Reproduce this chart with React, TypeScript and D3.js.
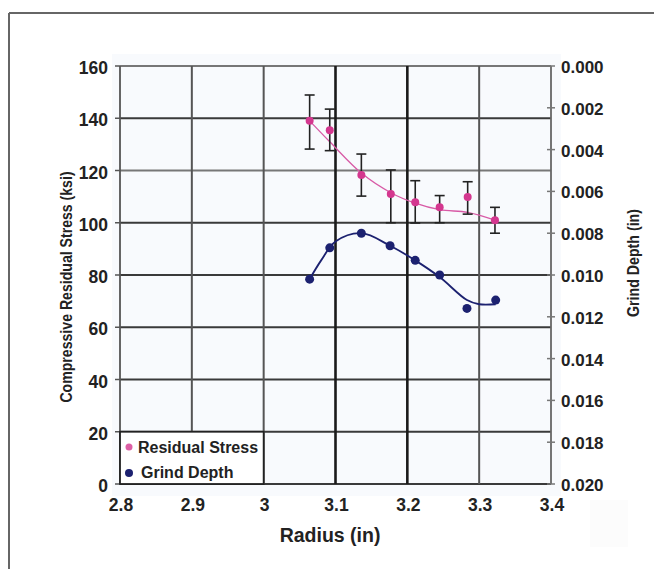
import React from "react";
import * as d3 from "d3";

const radius = [3.064, 3.092, 3.136, 3.177, 3.211, 3.245, 3.284, 3.322];
const stress = [139, 135.4, 118.3, 111, 107.8, 105.9, 109.9, 101];
const stressHi = [148.9, 143.5, 126.3, 120.2, 116.1, 110.4, 115.7, 105.9];
const stressLo = [128.2, 127.6, 110.2, 100, 99.9, 100, 103.3, 96];
const stressTrend = [139, 131, 119, 111.5, 107.5, 105, 104, 101];

const grindRadius = [3.064, 3.092, 3.136, 3.176, 3.211, 3.245, 3.283, 3.323];
const grindDepth = [0.0102, 0.0087, 0.008, 0.0086, 0.0093, 0.01, 0.0116, 0.0112];
const grindTrendX = [3.064, 3.08, 3.1, 3.136, 3.176, 3.211, 3.245, 3.283, 3.3, 3.323];
const grindTrend = [0.0102, 0.0093, 0.0084, 0.008, 0.0086, 0.0093, 0.0101, 0.0112, 0.0114, 0.0114];

const xTicks = [2.8, 2.9, 3.0, 3.1, 3.2, 3.3, 3.4];
const yTicks = [0, 20, 40, 60, 80, 100, 120, 140, 160];
const y2Ticks = [0, 0.002, 0.004, 0.006, 0.008, 0.01, 0.012, 0.014, 0.016, 0.018, 0.02];
const darkX = [3.1, 3.2];
const lightY = [160, 120];

const W = 654, H = 569;
const L = 120, R = 551, T = 66, B = 484;
const FONT = "'Liberation Sans', Arial, Helvetica, sans-serif";
const PINK = "#d4378f";
const NAVY = "#1c2170";

export default function App() {
  const x = d3.scaleLinear().domain([2.8, 3.4]).range([L, R]);
  const y = d3.scaleLinear().domain([0, 160]).range([B, T]);
  const y2 = d3.scaleLinear().domain([0, 0.02]).range([T, B]);

  const stressLine = d3
    .line<number>()
    .x((_, i) => x(radius[i]))
    .y((d) => y(d))
    .curve(d3.curveMonotoneX)(stressTrend) as string;
  const grindLine = d3
    .line<number>()
    .x((_, i) => x(grindTrendX[i]))
    .y((d) => y2(d))
    .curve(d3.curveCatmullRom)(grindTrend) as string;

  return (
    <svg width={W} height={H} style={{ position: "absolute", left: 0, top: 0, background: "#fff" }} fontFamily={FONT} fontWeight="bold">
      {/* frame */}
      <line x1={9} y1={13} x2={W} y2={13} stroke="#666" strokeWidth={2} />
      <line x1={9} y1={13} x2={9} y2={H} stroke="#666" strokeWidth={2} />
      <rect x={590} y={500} width={38} height={47} fill="#fcfcfc" />
      {/* plot background */}
      <rect x={L - 8} y={T - 12} width={R - L + 18} height={B - T + 24} fill="#f8fafd" />

      {/* grid */}
      {yTicks.map((t) => (
        <line key={"gy" + t} x1={L} x2={R} y1={y(t)} y2={y(t)}
          stroke={lightY.includes(t) ? "#777" : "#3a3a3a"} strokeWidth={1.8} />
      ))}
      {xTicks.slice(1, -1).map((t) => (
        <line key={"gx" + t} x1={x(t)} x2={x(t)} y1={T} y2={B}
          stroke={darkX.includes(t) ? "#1a1a1a" : "#555"} strokeWidth={darkX.includes(t) ? 2.6 : 2} />
      ))}
      {/* axes */}
      <line x1={L} x2={L} y1={T} y2={B} stroke="#555" strokeWidth={1.8} />
      <line x1={R} x2={R} y1={T} y2={B} stroke="#666" strokeWidth={1.8} />
      {yTicks.map((t) => (
        <line key={"ty" + t} x1={L - 5} x2={L} y1={y(t)} y2={y(t)} stroke="#555" strokeWidth={1.5} />
      ))}
      {y2Ticks.map((t) => (
        <line key={"ty2" + t} x1={R - 4} x2={R + 4} y1={y2(t)} y2={y2(t)} stroke="#777" strokeWidth={1.5} />
      ))}

      {/* tick labels */}
      {yTicks.map((t) => (
        <text key={"ly" + t} x={108} y={y(t) + 8} textAnchor="end" fontSize={17.5} fill="#222">{t}</text>
      ))}
      {y2Ticks.map((t) => (
        <text key={"ly2" + t} x={561} y={y2(t) + 7} textAnchor="start" fontSize={17} fill="#222">{t.toFixed(3)}</text>
      ))}
      {xTicks.map((t) => (
        <text key={"lx" + t} x={x(t) + 1} y={511} textAnchor="middle" fontSize={17.5} fill="#222">{d3.format("")(+t.toFixed(1))}</text>
      ))}

      {/* titles */}
      <text x={330} y={542} textAnchor="middle" fontSize={19.5} fill="#222">Radius (in)</text>
      <text transform={`translate(72,287) rotate(-90) scale(0.83,1)`} textAnchor="middle" fontSize={17} fill="#222">Compressive Residual Stress (ksi)</text>
      <text transform={`translate(639,263) rotate(-90) scale(0.86,1)`} textAnchor="middle" fontSize={16.5} fill="#222">Grind Depth (in)</text>

      {/* trend lines */}
      <path d={stressLine} fill="none" stroke="#d85aa6" strokeWidth={1.3} />
      <path d={grindLine} fill="none" stroke={NAVY} strokeWidth={1.8} />

      {/* error bars */}
      {radius.map((r, i) => (
        <g key={"eb" + i} stroke="#222" strokeWidth={1.6}>
          <line x1={x(r)} x2={x(r)} y1={y(stressHi[i])} y2={y(stressLo[i])} />
          <line x1={x(r) - 5} x2={x(r) + 5} y1={y(stressHi[i])} y2={y(stressHi[i])} />
          <line x1={x(r) - 5} x2={x(r) + 5} y1={y(stressLo[i])} y2={y(stressLo[i])} />
        </g>
      ))}

      {/* markers */}
      {radius.map((r, i) => (
        <circle key={"ps" + i} cx={x(r)} cy={y(stress[i])} r={4} fill={PINK} />
      ))}
      {grindRadius.map((r, i) => (
        <circle key={"pg" + i} cx={x(r)} cy={y2(grindDepth[i])} r={4.5} fill={NAVY} />
      ))}

      {/* legend */}
      <rect x={L} y={y(20)} width={x(3.0) - L} height={y(0) - y(20)} fill="#fff" stroke="#222" strokeWidth={1.8} />
      <circle cx={129} cy={447} r={3.5} fill={PINK} opacity={0.8} />
      <text x={138} y={453} fontSize={16} fill="#222">Residual Stress</text>
      <circle cx={129} cy={473} r={4} fill={NAVY} />
      <text x={141} y={478} fontSize={16} fill="#222">Grind Depth</text>
    </svg>
  );
}
